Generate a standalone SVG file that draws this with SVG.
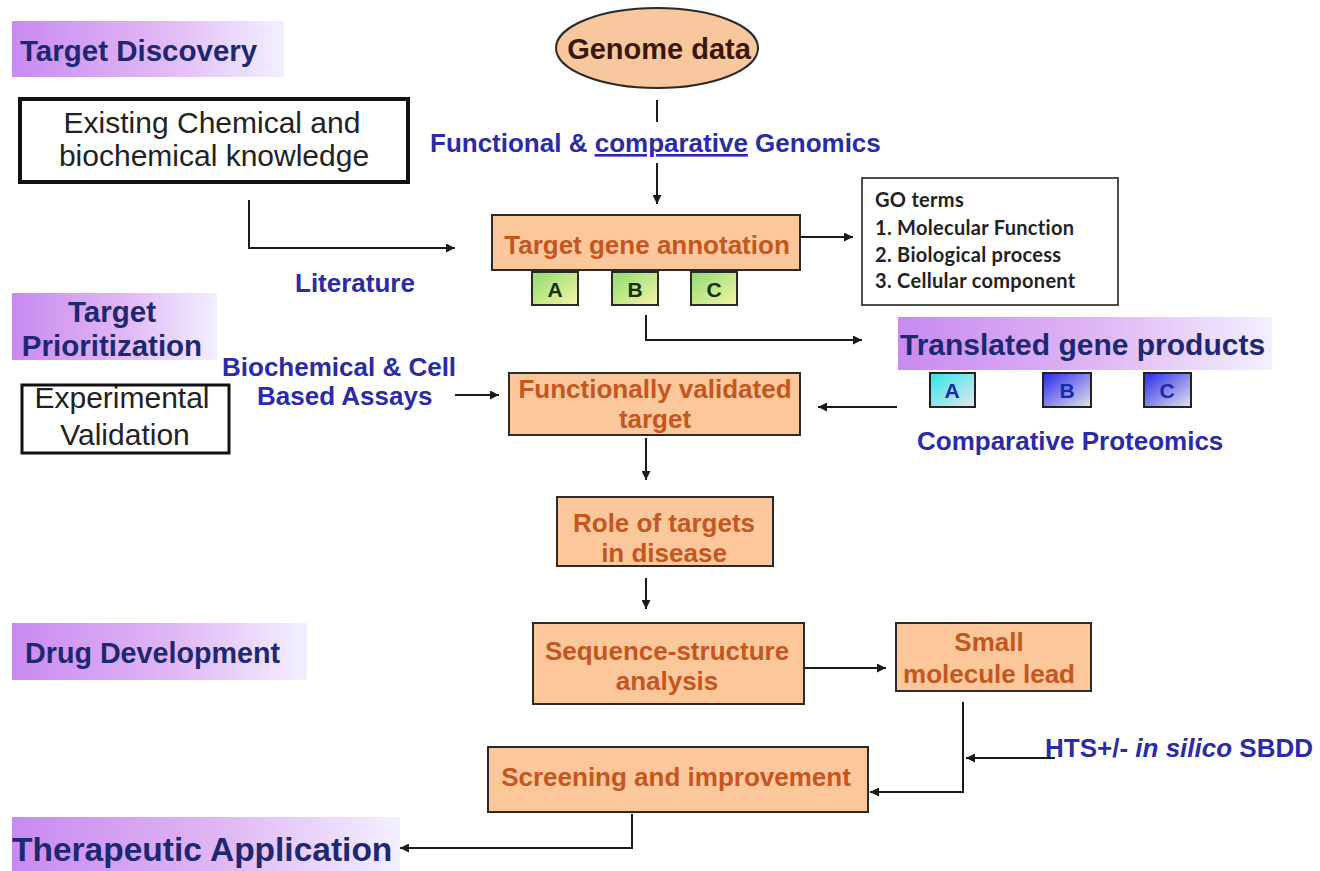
<svg xmlns="http://www.w3.org/2000/svg" width="1320" height="871" viewBox="0 0 1320 871">
  <style>
    .band-text { font-family: "Liberation Sans", Arial, sans-serif; font-weight: bold; fill: #1d2870; }
    .label { font-family: "Liberation Sans", Arial, sans-serif; font-weight: bold; font-size: 26px; fill: #2b2ba6; }
    .node-rect { fill: #fcc89b; stroke: #2a2a2a; stroke-width: 2; }
    .node-text { font-family: "Liberation Sans", Arial, sans-serif; font-weight: bold; font-size: 26px; fill: #c4561f; text-anchor: middle; }
    .plain-text { font-family: "Liberation Sans", Arial, sans-serif; font-size: 30px; fill: #222; text-anchor: middle; }
    .go-text { font-family: Lato, "Open Sans", sans-serif; font-weight: bold; font-size: 20px; letter-spacing: 0.3px; fill: #222; }
    .letter { font-family: "Liberation Sans", Arial, sans-serif; font-weight: bold; font-size: 21px; text-anchor: middle; }
    .conn { fill: none; stroke: #1a1a1a; stroke-width: 2; }
  </style>
  <defs>
    <linearGradient id="band" x1="0" y1="0" x2="1" y2="0">
      <stop offset="0" stop-color="#c88af1"/>
      <stop offset="0.55" stop-color="#e0b8f4"/>
      <stop offset="1" stop-color="#f2f0ff"/>
    </linearGradient>
    <linearGradient id="gene" x1="0" y1="0" x2="1" y2="1">
      <stop offset="0" stop-color="#8fdc72"/>
      <stop offset="1" stop-color="#f6f4a4"/>
    </linearGradient>
    <linearGradient id="protA" x1="0" y1="0" x2="1" y2="1">
      <stop offset="0" stop-color="#2fe6e6"/>
      <stop offset="1" stop-color="#e6e6ee"/>
    </linearGradient>
    <linearGradient id="protB" x1="0" y1="0" x2="1" y2="1">
      <stop offset="0" stop-color="#2828ee"/>
      <stop offset="1" stop-color="#e4e4e8"/>
    </linearGradient>
    <marker id="arrow" viewBox="0 0 10 10" refX="10" refY="5" markerWidth="11" markerHeight="9" markerUnits="userSpaceOnUse" orient="auto">
      <path d="M0,0 L10,5 L0,10 z" fill="#1a1a1a"/>
    </marker>
  </defs>

  <rect width="1320" height="871" fill="#ffffff"/>

  <!-- stage headings -->
  <g id="stage-target-discovery">
    <rect x="12" y="21" width="272" height="56" fill="url(#band)"/>
    <text class="band-text" x="20" y="61" font-size="29.5">Target Discovery</text>
  </g>
  <g id="stage-target-prioritization">
    <rect x="12" y="293" width="205" height="67" fill="url(#band)"/>
    <text class="band-text" x="112" y="322" font-size="29.5" text-anchor="middle">Target</text>
    <text class="band-text" x="112" y="356" font-size="29.5" text-anchor="middle">Prioritization</text>
  </g>
  <g id="stage-drug-development">
    <rect x="12" y="623" width="295" height="57" fill="url(#band)"/>
    <text class="band-text" x="25" y="663" font-size="28.7">Drug Development</text>
  </g>
  <g id="stage-therapeutic-application">
    <rect x="12" y="817" width="388" height="54" fill="url(#band)"/>
    <text class="band-text" x="12" y="861" font-size="33.5">Therapeutic Application</text>
  </g>
  <g id="translated-gene-products">
    <rect x="898" y="317" width="374" height="53" fill="url(#band)"/>
    <text class="band-text" x="900" y="355" font-size="30">Translated gene products</text>
  </g>

  <!-- knowledge sources -->
  <g id="existing-knowledge">
    <rect x="20" y="99" width="388" height="83" fill="#ffffff" stroke="#111" stroke-width="4"/>
    <text class="plain-text" x="212" y="133">Existing Chemical and</text>
    <text class="plain-text" x="214" y="166">biochemical knowledge</text>
  </g>
  <g id="experimental-validation">
    <rect x="22" y="385" width="207" height="68" fill="#ffffff" stroke="#111" stroke-width="3"/>
    <text class="plain-text" x="122" y="408">Experimental</text>
    <text class="plain-text" x="125" y="445">Validation</text>
  </g>

  <!-- genome source -->
  <g id="genome-data">
    <ellipse cx="657" cy="48" rx="101" ry="40" fill="#f8c79d" stroke="#2a2a2a" stroke-width="2"/>
    <text x="659" y="59" text-anchor="middle" font-family="Liberation Sans, Arial, sans-serif" font-weight="bold" font-size="29" fill="#3a170a">Genome data</text>
  </g>

  <!-- annotation -->
  <g id="target-gene-annotation">
    <rect class="node-rect" x="492" y="215" width="308" height="55"/>
    <text class="node-text" x="647" y="254">Target gene annotation</text>
  </g>
  <g id="gene-a">
    <rect x="532" y="272" width="46" height="33" fill="url(#gene)" stroke="#2a2a2a" stroke-width="2"/>
    <text class="letter" x="555" y="297" fill="#17300f">A</text>
  </g>
  <g id="gene-b">
    <rect x="612" y="272" width="46" height="33" fill="url(#gene)" stroke="#2a2a2a" stroke-width="2"/>
    <text class="letter" x="635" y="297" fill="#17300f">B</text>
  </g>
  <g id="gene-c">
    <rect x="691" y="272" width="46" height="33" fill="url(#gene)" stroke="#2a2a2a" stroke-width="2"/>
    <text class="letter" x="714" y="297" fill="#17300f">C</text>
  </g>

  <g id="go-terms">
    <rect x="862" y="178" width="256" height="127" fill="#ffffff" stroke="#222" stroke-width="1.6"/>
    <text class="go-text" x="875" y="207">GO terms</text>
    <text class="go-text" x="875" y="235">1. Molecular Function</text>
    <text class="go-text" x="875" y="262">2. Biological process</text>
    <text class="go-text" x="875" y="288">3. Cellular component</text>
  </g>

  <!-- proteins -->
  <g id="protein-a">
    <rect x="930" y="373" width="45" height="34" fill="url(#protA)" stroke="#222" stroke-width="2"/>
    <text class="letter" x="952" y="398" fill="#1a2aa8">A</text>
  </g>
  <g id="protein-b">
    <rect x="1043" y="373" width="48" height="34" fill="url(#protB)" stroke="#222" stroke-width="2"/>
    <text class="letter" x="1067" y="398" fill="#1a2aa8">B</text>
  </g>
  <g id="protein-c">
    <rect x="1144" y="373" width="47" height="34" fill="url(#protB)" stroke="#222" stroke-width="2"/>
    <text class="letter" x="1167" y="398" fill="#1a2aa8">C</text>
  </g>

  <!-- validation and development steps -->
  <g id="functionally-validated-target">
    <rect class="node-rect" x="509" y="373" width="291" height="62"/>
    <text class="node-text" x="655" y="398">Functionally validated</text>
    <text class="node-text" x="655" y="428">target</text>
  </g>
  <g id="role-in-disease">
    <rect class="node-rect" x="557" y="497" width="216" height="69"/>
    <text class="node-text" x="664" y="532">Role of targets</text>
    <text class="node-text" x="664" y="562">in disease</text>
  </g>
  <g id="sequence-structure">
    <rect class="node-rect" x="533" y="623" width="271" height="81"/>
    <text class="node-text" x="667" y="660">Sequence-structure</text>
    <text class="node-text" x="667" y="690">analysis</text>
  </g>
  <g id="small-molecule-lead">
    <rect class="node-rect" x="896" y="623" width="195" height="68"/>
    <text class="node-text" x="989" y="651">Small</text>
    <text class="node-text" x="989" y="683">molecule lead</text>
  </g>
  <g id="screening">
    <rect class="node-rect" x="488" y="747" width="380" height="65"/>
    <text class="node-text" x="676" y="786">Screening and improvement</text>
  </g>

  <!-- edge labels -->
  <g id="labels">
    <text class="label" x="430" y="152">Functional &amp; <tspan text-decoration="underline">comparative</tspan> Genomics</text>
    <text class="label" x="295" y="292">Literature</text>
    <text class="label" x="222" y="376">Biochemical &amp; Cell</text>
    <text class="label" x="257" y="405">Based Assays</text>
    <text class="label" x="917" y="450">Comparative Proteomics</text>
    <text class="label" x="1045" y="757">HTS+/- <tspan font-style="italic">in silico</tspan> SBDD</text>
  </g>

  <!-- connectors -->
  <g id="connectors">
    <path class="conn" d="M657,100 V122"/>
    <path class="conn" d="M657,163 V204" marker-end="url(#arrow)"/>
    <path class="conn" d="M249,200 V248 H455" marker-end="url(#arrow)"/>
    <path class="conn" d="M801,237 H853" marker-end="url(#arrow)"/>
    <path class="conn" d="M646,315 V340 H862" marker-end="url(#arrow)"/>
    <path class="conn" d="M455,395 H499" marker-end="url(#arrow)"/>
    <path class="conn" d="M897,407 H818" marker-end="url(#arrow)"/>
    <path class="conn" d="M646,438 V480" marker-end="url(#arrow)"/>
    <path class="conn" d="M646,578 V609" marker-end="url(#arrow)"/>
    <path class="conn" d="M805,668 H886" marker-end="url(#arrow)"/>
    <path class="conn" d="M963,702 V792 H870" marker-end="url(#arrow)"/>
    <path class="conn" d="M1055,758 H966" marker-end="url(#arrow)" stroke="#555"/>
    <path class="conn" d="M632,814 V848 H400" marker-end="url(#arrow)"/>
  </g>
</svg>
